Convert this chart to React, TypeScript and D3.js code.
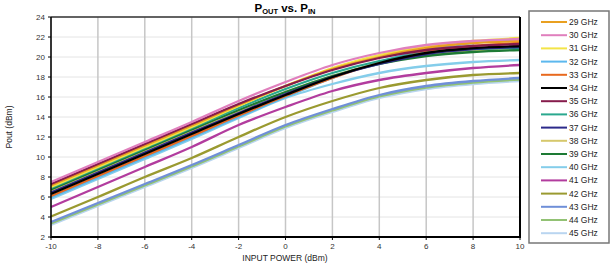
import * as d3 from 'd3';

const WIDTH = 612;
const HEIGHT = 263;
const PLOT = { left: 51, right: 520, top: 17, bottom: 237 };

// input power points (dBm)
const pinValues = [-10, -8, -6, -4, -2, 0, 2, 4, 6, 8, 10];

const freqLabels = [
  '29 GHz', '30 GHz', '31 GHz', '32 GHz', '33 GHz', '34 GHz', '35 GHz', '36 GHz', '37 GHz',
  '38 GHz', '39 GHz', '40 GHz', '41 GHz', '42 GHz', '43 GHz', '44 GHz', '45 GHz',
];

const freqColors = [
  '#e9a020', '#e07fbd', '#f3e447', '#5cb8ee', '#e8691e', '#000000', '#861c4c', '#2aa88e', '#2c2a8a',
  '#d6c86c', '#1d7a34', '#84cdea', '#b23c9e', '#9a9a30', '#6f8fd8', '#92c274', '#b9d5f0',
];

// Pout (dBm) per frequency, read at each pinValues point
const pout29 = [7.15, 9.15, 11.15, 13.15, 15.2, 17.1, 18.8, 20.0, 20.9, 21.4, 21.6];
const pout30 = [7.5, 9.5, 11.5, 13.5, 15.6, 17.5, 19.2, 20.4, 21.2, 21.6, 21.8];
const pout31 = [7.0, 9.0, 11.0, 13.0, 15.1, 17.1, 18.9, 20.2, 21.1, 21.6, 21.9];
const pout32 = [5.95, 7.95, 9.95, 11.95, 14.0, 16.0, 17.9, 19.5, 20.7, 21.4, 21.7];
const pout33 = [6.1, 8.1, 10.1, 12.1, 14.15, 16.1, 17.9, 19.4, 20.5, 21.1, 21.4];
const pout34 = [6.3, 8.3, 10.3, 12.3, 14.3, 16.2, 18.0, 19.4, 20.4, 20.9, 21.1];
const pout35 = [7.3, 9.3, 11.3, 13.3, 15.3, 17.1, 18.7, 19.9, 20.7, 21.1, 21.3];
const pout36 = [6.9, 8.9, 10.9, 12.9, 14.9, 16.8, 18.4, 19.6, 20.4, 20.8, 20.9];
const pout37 = [6.45, 8.45, 10.45, 12.45, 14.4, 16.3, 18.0, 19.3, 20.3, 20.8, 21.0];
const pout38 = [6.6, 8.6, 10.6, 12.6, 14.6, 16.5, 18.1, 19.4, 20.2, 20.6, 20.8];
const pout39 = [6.75, 8.75, 10.75, 12.75, 14.7, 16.5, 18.1, 19.3, 20.1, 20.5, 20.7];
const pout40 = [5.8, 7.8, 9.8, 11.8, 13.9, 15.9, 17.3, 18.4, 19.1, 19.5, 19.7];
const pout41 = [5.0, 7.0, 9.0, 11.0, 13.2, 15.0, 16.6, 17.7, 18.4, 18.9, 19.2];
const pout42 = [4.05, 6.0, 8.0, 9.9, 12.0, 14.0, 15.6, 16.9, 17.7, 18.2, 18.4];
const pout43 = [3.5, 5.4, 7.3, 9.2, 11.2, 13.2, 14.8, 16.2, 17.1, 17.6, 17.9];
const pout44 = [3.35, 5.25, 7.15, 9.05, 11.05, 13.05, 14.65, 16.05, 16.95, 17.45, 17.75];
const pout45 = [3.2, 5.1, 7.0, 8.9, 10.9, 12.9, 14.5, 15.9, 16.8, 17.3, 17.6];

const allSeries = [
  pout29, pout30, pout31, pout32, pout33, pout34, pout35, pout36, pout37,
  pout38, pout39, pout40, pout41, pout42, pout43, pout44, pout45,
];

const xTicks = [-10, -8, -6, -4, -2, 0, 2, 4, 6, 8, 10];
const yTicks = [2, 4, 6, 8, 10, 12, 14, 16, 18, 20, 22, 24];

// order the lines are painted in (last one on top)
const drawOrder = [16, 15, 14, 13, 12, 11, 3, 4, 9, 10, 7, 8, 5, 2, 0, 6, 1];

const FONT = 'Liberation Sans, Arial, sans-serif';

export default function App() {
  const x = d3.scaleLinear().domain([-10, 10]).range([PLOT.left, PLOT.right]);
  const y = d3.scaleLinear().domain([2, 24]).range([PLOT.bottom, PLOT.top]);

  const line = d3
    .line<number>()
    .x((_, i) => x(pinValues[i]))
    .y(d => y(d))
    .curve(d3.curveMonotoneX);

  const legend = { x: 529, y: 11, w: 80, h: 232, rowStart: 22, rowStep: 13.2 };

  return (
    <svg width={WIDTH} height={HEIGHT} style={{ position: 'absolute', left: 0, top: 0 }}>
      <rect width={WIDTH} height={HEIGHT} fill="#fff" />

      {/* horizontal grid */}
      {yTicks.map(t => (
        <line key={`hy${t}`} x1={PLOT.left} x2={PLOT.right} y1={y(t)} y2={y(t)} stroke="#e4e4e4" strokeWidth={1} />
      ))}
      {/* vertical grid */}
      {xTicks.map(t => (
        <line key={`vx${t}`} x1={x(t)} x2={x(t)} y1={PLOT.top} y2={PLOT.bottom} stroke="#c6c6c6" strokeWidth={1.5} />
      ))}

      {/* curves */}
      {drawOrder.map(i => (
        <path key={freqLabels[i]} d={line(allSeries[i]) ?? ''} fill="none" stroke={freqColors[i]} strokeWidth={2.3} />
      ))}

      {/* frame */}
      <line x1={PLOT.left} x2={PLOT.right} y1={PLOT.top} y2={PLOT.top} stroke="#333" strokeWidth={1.5} />
      <line x1={PLOT.right} x2={PLOT.right} y1={PLOT.top} y2={PLOT.bottom} stroke="#000" strokeWidth={2} />
      <line x1={PLOT.left} x2={PLOT.left} y1={PLOT.top} y2={PLOT.bottom + 1} stroke="#000" strokeWidth={1.5} />
      <line x1={PLOT.left} x2={PLOT.right + 1} y1={PLOT.bottom} y2={PLOT.bottom} stroke="#000" strokeWidth={2} />

      {/* y ticks */}
      {yTicks.map(t => (
        <g key={`yt${t}`}>
          <line x1={PLOT.left - 3} x2={PLOT.left} y1={y(t)} y2={y(t)} stroke="#000" strokeWidth={1} />
          <text x={PLOT.left - 6} y={y(t) + 2.8} textAnchor="end" fontSize={8} fontFamily={FONT} fill="#333">
            {t}
          </text>
        </g>
      ))}
      {/* x ticks */}
      {xTicks.map(t => (
        <g key={`xt${t}`}>
          <line x1={x(t)} x2={x(t)} y1={PLOT.bottom} y2={PLOT.bottom + 3} stroke="#000" strokeWidth={1} />
          <text x={x(t)} y={PLOT.bottom + 12} textAnchor="middle" fontSize={8} fontFamily={FONT} fill="#333">
            {t}
          </text>
        </g>
      ))}

      {/* title */}
      <text x={285} y={12} textAnchor="middle" fontSize={11.5} fontWeight="bold" fontFamily={FONT} fill="#000">
        P<tspan fontSize={7.5} dy={2}>OUT</tspan>
        <tspan dy={-2}> vs. P</tspan>
        <tspan fontSize={7.5} dy={2}>IN</tspan>
      </text>

      {/* axis labels */}
      <text x={285} y={261} textAnchor="middle" fontSize={8.5} fontFamily={FONT} fill="#222">
        INPUT POWER (dBm)
      </text>
      <text
        transform={`translate(12, ${(PLOT.top + PLOT.bottom) / 2}) rotate(-90)`}
        textAnchor="middle"
        fontSize={8.5}
        fontFamily={FONT}
        fill="#222"
      >
        Pout (dBm)
      </text>

      {/* legend */}
      <rect x={legend.x} y={legend.y} width={legend.w} height={legend.h} fill="#fff" stroke="#777" strokeWidth={1.5} />
      {freqLabels.map((label, i) => {
        const ly = legend.rowStart + i * legend.rowStep;
        return (
          <g key={`lg${label}`}>
            <line x1={541} x2={567} y1={ly} y2={ly} stroke={freqColors[i]} strokeWidth={2} />
            <text x={569} y={ly + 3} fontSize={8.5} fontFamily={FONT} fill="#222">
              {label}
            </text>
          </g>
        );
      })}
    </svg>
  );
}
